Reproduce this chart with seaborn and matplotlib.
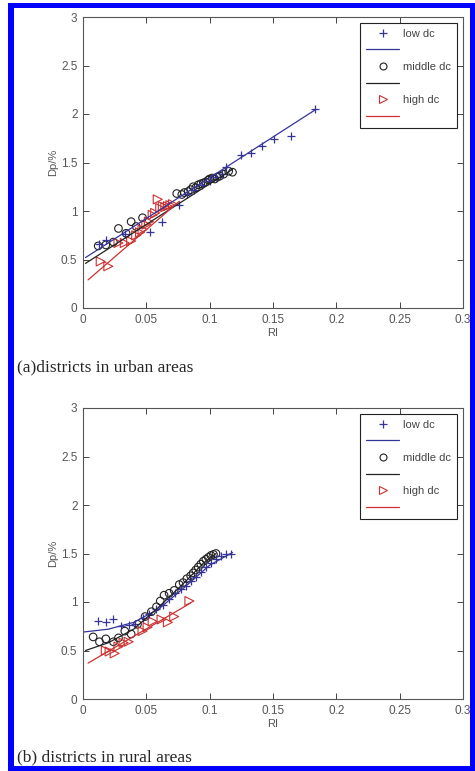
import matplotlib
matplotlib.use("Agg")
import matplotlib.pyplot as plt
from matplotlib.lines import Line2D
from matplotlib.patches import Rectangle
import seaborn as sns
import pandas as pd

# ---------------- data ----------------
# (a) districts in urban areas
low_a_x = [0.013, 0.018, 0.033, 0.053, 0.062, 0.076, 0.082, 0.088, 0.094, 0.100,
           0.105, 0.110, 0.113, 0.125, 0.133, 0.141, 0.151, 0.164, 0.183]
low_a_y = [0.66, 0.70, 0.76, 0.78, 0.89, 1.06, 1.18, 1.22, 1.27, 1.31,
           1.35, 1.38, 1.45, 1.58, 1.60, 1.67, 1.74, 1.77, 2.05]
mid_a_x = [0.012, 0.018, 0.024, 0.028, 0.034, 0.038, 0.042, 0.047, 0.074, 0.078,
           0.080, 0.083, 0.085, 0.087, 0.089, 0.091, 0.093, 0.095, 0.097, 0.099,
           0.100, 0.102, 0.104, 0.106, 0.108, 0.111, 0.115, 0.118]
mid_a_y = [0.64, 0.65, 0.68, 0.82, 0.77, 0.89, 0.84, 0.93, 1.18, 1.17,
           1.19, 1.20, 1.22, 1.25, 1.24, 1.27, 1.28, 1.29, 1.30, 1.32,
           1.33, 1.34, 1.33, 1.35, 1.36, 1.38, 1.41, 1.40]
high_a_x = [0.014, 0.020, 0.028, 0.033, 0.038, 0.042, 0.045, 0.047, 0.050, 0.052,
            0.055, 0.057, 0.059, 0.061, 0.063, 0.065, 0.067, 0.069, 0.071]
high_a_y = [0.48, 0.43, 0.67, 0.67, 0.69, 0.75, 0.78, 0.81, 0.86, 0.89,
            0.96, 0.98, 1.12, 1.03, 1.05, 1.04, 1.05, 1.06, 1.07]
# fitted lines (a)
fit_low_a_x = [0.002, 0.183]
fit_low_a_y = [0.52, 2.04]
fit_mid_a_x = [0.002, 0.118]
fit_mid_a_y = [0.46, 1.43]
fit_high_a_x = [0.004, 0.076]
fit_high_a_y = [0.29, 1.10]

# (b) districts in rural areas
low_b_x = [0.012, 0.018, 0.024, 0.030, 0.036, 0.041, 0.047, 0.052, 0.058, 0.063,
           0.068, 0.073, 0.077, 0.081, 0.085, 0.089, 0.093, 0.097, 0.101, 0.105,
           0.109, 0.113, 0.117]
low_b_y = [0.80, 0.79, 0.82, 0.75, 0.76, 0.77, 0.84, 0.88, 0.93, 0.97,
           1.03, 1.09, 1.13, 1.17, 1.22, 1.26, 1.31, 1.36, 1.40, 1.44,
           1.47, 1.49, 1.50]
mid_b_x = [0.008, 0.013, 0.018, 0.024, 0.028, 0.033, 0.038, 0.043, 0.049, 0.054,
           0.058, 0.061, 0.064, 0.068, 0.072, 0.076, 0.079, 0.082, 0.085, 0.087,
           0.089, 0.091, 0.093, 0.095, 0.097, 0.099, 0.101, 0.103, 0.105]
mid_b_y = [0.64, 0.59, 0.62, 0.59, 0.63, 0.70, 0.67, 0.77, 0.85, 0.90,
           0.95, 1.01, 1.07, 1.09, 1.12, 1.18, 1.20, 1.24, 1.27, 1.30,
           1.33, 1.36, 1.39, 1.42, 1.44, 1.46, 1.48, 1.49, 1.50]
high_b_x = [0.018, 0.021, 0.025, 0.028, 0.032, 0.036, 0.047, 0.051, 0.055, 0.062,
            0.067, 0.072, 0.084]
high_b_y = [0.50, 0.49, 0.47, 0.54, 0.58, 0.59, 0.70, 0.74, 0.80, 0.82,
            0.79, 0.85, 1.01]
# fitted curves (b)
fit_low_b_x = [0.000, 0.020, 0.040, 0.060, 0.080, 0.100, 0.118]
fit_low_b_y = [0.69, 0.72, 0.79, 0.93, 1.15, 1.38, 1.51]
fit_mid_b_x = [0.002, 0.020, 0.040, 0.060, 0.080, 0.095, 0.105]
fit_mid_b_y = [0.50, 0.58, 0.72, 0.95, 1.20, 1.40, 1.50]
fit_high_b_x = [0.004, 0.085]
fit_high_b_y = [0.37, 0.99]

series_labels = ["low dc", "middle dc", "high dc"]
x_ticks = [0, 0.05, 0.1, 0.15, 0.2, 0.25, 0.3]
x_tick_labels = ["0", "0.05", "0.1", "0.15", "0.2", "0.25", "0.3"]
y_ticks = [0, 0.5, 1, 1.5, 2, 2.5, 3]
y_tick_labels = ["0", "0.5", "1", "1.5", "2", "2.5", "3"]
captions = ["(a)districts in urban areas", "(b) districts in rural areas"]

# ---------------- styling ----------------
sns.set_style("white")
plt.rcParams["font.family"] = ["Liberation Sans", "DejaVu Sans"]

BLUE = "#34349a"
BLACK = "#222222"
RED = "#cc3030"
TXT = "#555555"

W, H = 475, 771
fig = plt.figure(figsize=(W / 100, H / 100), dpi=100)

def frac_axes(left, top, right, bottom):
    return fig.add_axes([left / W, 1 - bottom / H, (right - left) / W, (bottom - top) / H])

ax_a = frac_axes(83, 17, 463, 308)
ax_b = frac_axes(83, 408, 463, 699)

panels = [
    (ax_a, (low_a_x, low_a_y), (mid_a_x, mid_a_y), (high_a_x, high_a_y),
     (fit_low_a_x, fit_low_a_y), (fit_mid_a_x, fit_mid_a_y), (fit_high_a_x, fit_high_a_y)),
    (ax_b, (low_b_x, low_b_y), (mid_b_x, mid_b_y), (high_b_x, high_b_y),
     (fit_low_b_x, fit_low_b_y), (fit_mid_b_x, fit_mid_b_y), (fit_high_b_x, fit_high_b_y)),
]

for ax, low, mid, high, flow, fmid, fhigh in panels:
    # fit lines
    sns.lineplot(x=flow[0], y=flow[1], ax=ax, color=BLUE, linewidth=0.9, sort=False)
    sns.lineplot(x=fmid[0], y=fmid[1], ax=ax, color=BLACK, linewidth=0.9, sort=False)
    sns.lineplot(x=fhigh[0], y=fhigh[1], ax=ax, color=RED, linewidth=0.9, sort=False)
    # markers
    sns.scatterplot(x=mid[0], y=mid[1], ax=ax, marker="o", s=30,
                    facecolor="none", edgecolor=BLACK, linewidth=0.8)
    sns.scatterplot(x=high[0], y=high[1], ax=ax, marker=">", s=42,
                    facecolor="none", edgecolor=RED, linewidth=0.8)
    sns.scatterplot(x=low[0], y=low[1], ax=ax, marker="+", s=40,
                    color=BLUE, linewidth=0.9)

    ax.set_xlim(0, 0.3)
    ax.set_ylim(0, 3)
    ax.set_xticks(x_ticks)
    ax.set_xticklabels(x_tick_labels)
    ax.set_yticks(y_ticks)
    ax.set_yticklabels(y_tick_labels)
    ax.tick_params(direction="in", length=4, width=0.7, colors="#444444",
                   labelsize=8.5, top=True, right=True, bottom=True, left=True,
                   labelcolor=TXT, pad=4)
    for sp in ax.spines.values():
        sp.set_visible(True)
        sp.set_color("#555555")
        sp.set_linewidth(0.8)
    ax.set_xlabel("RI", fontsize=8, color=TXT, labelpad=2)
    ax.set_ylabel("Dp/%", fontsize=8, color=TXT, labelpad=2)

    handles = [
        Line2D([], [], linestyle="none", marker="+", color=BLUE, markersize=6, markeredgewidth=0.9),
        Line2D([], [], color=BLUE, linewidth=0.9),
        Line2D([], [], linestyle="none", marker="o", markerfacecolor="none",
               markeredgecolor=BLACK, markersize=5, markeredgewidth=0.8),
        Line2D([], [], color=BLACK, linewidth=0.9),
        Line2D([], [], linestyle="none", marker=">", markerfacecolor="none",
               markeredgecolor=RED, markersize=5.5, markeredgewidth=0.8),
        Line2D([], [], color=RED, linewidth=0.9),
    ]
    labels = [series_labels[0], "", series_labels[1], "", series_labels[2], ""]
    leg = ax.legend(handles, labels, loc="upper right", fontsize=8,
                    frameon=True, fancybox=False, framealpha=1,
                    edgecolor="#222222", borderpad=0.55, labelspacing=0.6,
                    handlelength=3.0, handletextpad=0.35, borderaxespad=0.5)
    leg.get_frame().set_linewidth(0.8)
    for t in leg.get_texts():
        t.set_color("#444444")

# captions
fig.text(17 / W, 1 - 367 / H, captions[0], fontsize=12.5,
         family=["Liberation Serif", "DejaVu Serif"], va="center", ha="left")
fig.text(17 / W, 1 - 757 / H, captions[1], fontsize=12.5,
         family=["Liberation Serif", "DejaVu Serif"], va="center", ha="left")

# blue frame
for (x0, y0, x1, y1) in [(8, 3, 475, 8), (8, 3, 14, 771), (470, 3, 475, 771), (8, 766, 475, 771)]:
    fig.patches.append(Rectangle((x0 / W, 1 - y1 / H), (x1 - x0) / W, (y1 - y0) / H,
                                 transform=fig.transFigure, facecolor="#0000ff",
                                 edgecolor="none", zorder=10))

fig.savefig("out.png", dpi=100)
